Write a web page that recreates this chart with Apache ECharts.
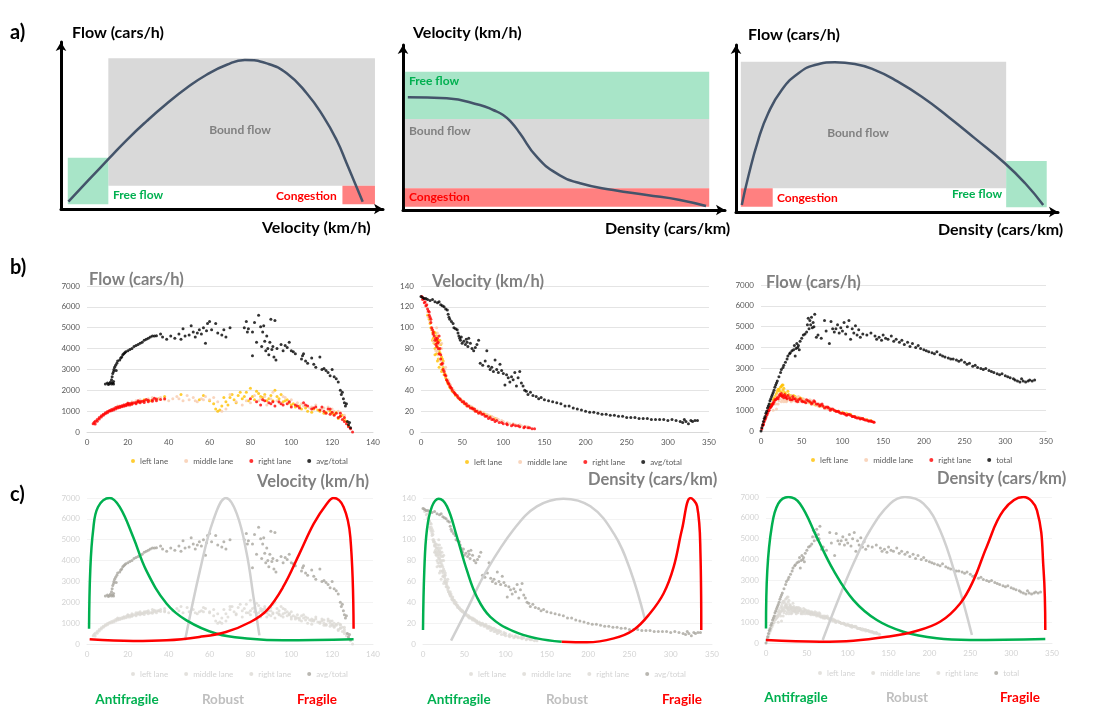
<!DOCTYPE html>
<html>
<head>
<meta charset="utf-8">
<title>Traffic flow regimes</title>
<script src="https://cdn.jsdelivr.net/npm/echarts@6/dist/echarts.min.js"></script>
<style>
  html, body { margin: 0; padding: 0; background: #fff; }
  #main { width: 1111px; height: 720px; }
</style>
</head>
<body>
<div id="main"></div>
<script>
// ---- a) schematic diagrams, arbitrary 0-100 units ----
// regions: [regime, x1, x2, y1, y2]
let a1Regions = [['bound', 14.7, 97.5, 13.9, 90.2], ['free', 2.1, 14.7, 2.8, 30.7], ['jam', 87.4, 97.5, 2.8, 13.9]]
let a2Regions = [['free', 0.6, 95.1, 55.2, 83.8], ['bound', 0.6, 95.1, 13.2, 55.2], ['jam', 0.6, 95.1, 2.0, 13.2]]
let a3Regions = [['bound', 1.5, 83.9, 14.2, 90.0], ['free', 83.9, 96.5, 2.8, 30.5], ['jam', 1.5, 11.4, 3.2, 14.2]]

let a1Curve = [[2.3,4.4],[8.6,17.4],[15.0,30.4],[20.4,41.3],[26.6,52.6],[32.8,63.0],[39.0,72.4],[45.2,80.4],[51.5,86.4],[57.1,89.2],[63.9,87.2],[70.1,81.3],[76.3,69.3],[81.5,55.3],[85.6,41.3],[88.7,27.4],[91.3,15.4],[93.7,4.4]]
let a2Curve = [[1.5,68.3],[13.6,67.7],[23.9,63.6],[28.0,60.6],[31.1,57.6],[33.8,52.8],[36.3,46.5],[41.5,32.3],[47.7,22.2],[55.0,16.2],[65.3,12.1],[75.7,9.1],[86.0,6.1],[94.1,2.4]]
let a3Curve = [[1.8,4.2],[3.8,21.1],[6.9,43.1],[10.0,59.1],[14.2,73.1],[19.4,83.1],[24.5,88.0],[30.7,89.6],[36.9,88.6],[43.2,85.0],[49.4,79.0],[57.7,69.0],[65.9,57.1],[74.2,44.1],[83.5,29.2],[89.8,17.2],[95.4,4.2]]

// ---- velocity (km/h) vs flow (cars/h) ----
let vfLeft = [[22,1350],[25,1450],[28,1550],[31,1500],[35,1600],[38,1700],[46,1800],[55,1550],[57,1750],[60,1500],[62,1350],[63,1100],[64,1000],[66,1250],[68,1450],[70,1650],[72,1550],[74,1750],[76,1600],[78,1900],[80,2100],[81,1700],[82,1550],[84,1850],[86,1650],[88,1500],[90,1750],[92,2000],[94,1600],[96,1450],[98,1550],[100,1300],[102,1200],[105,1100],[108,1000],[110,950],[113,1050],[116,900],[119,1000],[121,850],[123,650],[125,800],[127,500],[128,300],
    [65,1050],[67,1650],[69,1300],[71,1800],[73,1400],[75,1900],[77,1700],[79,1500],[83,1950],[85,1700],[87,1800],[89,1600],[91,1500],[93,1700],[95,1800],[97,1500],[99,1400],[101,1350],[104,1250],[107,1150],[111,1100],[114,1000],[117,950],[120,900],[122,950],[124,750],[126,600]]
let vfMiddle = [[15,1250],[20,1400],[24,1500],[27,1450],[30,1600],[33,1550],[36,1650],[40,1500],[42,1600],[44,1700],[47,1500],[50,1550],[52,1650],[54,1450],[56,1600],[58,1700],[60,1550],[64,1450],[66,1000],[68,1100],[70,1800],[73,1450],[76,1300],[78,1500],[82,1750],[85,1600],[88,1300],[91,1900],[94,1400],[97,1650],[100,1550],[103,1400],[106,1250],[109,1150],[112,1300],[115,1100],[118,1200],[121,1000],[124,950],
    [18,1300],[22,1450],[26,1550],[29,1500],[32,1650],[35,1600],[38,1550],[45,1600],[49,1750],[53,1500],[57,1550],[62,1650],[80,1400],[84,1500],[87,1700],[90,1600],[93,1500],[96,1700],[99,1450],[105,1350],[110,1200],[116,1150],[120,1100],[123,1000],[126,800]]
let vfRight = [[3,400],[3.5,450],[4,520],[5,600],[6,700],[7,780],[8,850],[9,920],[10,980],[11,1030],[12,1080],[13,1120],[14,1170],[15,1200],[16,1230],[17,1260],[18,1290],[19,1320],[20,1340],[21,1370],[22,1390],[23,1400],[24,1420],[25,1440],[26,1460],[27,1480],[28,1500],[30,1520],[32,1540],[34,1580],[36,1560],[38,1600],
    [4,380],[5,520],[6,620],[7,720],[8,800],[9,870],[10,920],[11,990],[12,1020],[13,1060],[14,1100],[15,1150],[16,1180],[17,1210],[18,1240],[19,1260],[20,1290],[21,1300],[22,1330],[24,1360],[26,1400],[28,1420],[30,1450],[32,1480],[34,1500],[20,1380],[25,1500],[29,1560],[33,1620],
    [80,1600],[83,1450],[85,1300],[87,1500],[89,1400],[90,1350],[92,1250],[94,1450],[96,1300],[98,1350],[100,1200],[102,1300],[104,1150],[106,1400],[108,1250],[110,1100],[112,1200],[114,1050],[116,1000],[117,900],[118,1100],[119,850],[120,950],[121,800],[122,900],[123,700],[124,750],[125,600],[126,500],[127,400],[128,250],[129,150],[130,0],
    [86,1550],[91,1450],[95,1350],[99,1450],[103,1250],[107,1300],[111,1150],[115,1200],[119,1100],[124,900],[126,700]]
let vfTotal = [[9,2300],[10,2350],[10.5,2280],[11,2320],[11.5,2400],[12,2300],[12.5,2350],[13,2420],[13,2300],[12,2500],[12.3,2650],[12.6,2800],[13,2900],[13.2,3000],[13.5,3100],[14,3200],[14.3,2950],[14.6,3300],[15,3400],[16,3450],[16.5,3550],[17,3600],[17.5,3700],[18,3750],[18.5,3800],[19,3850],[20,3900],[21,3950],[22,4000],[23,4100],[24,4150],[25,4200],[26,4250],[27,4300],[28,4400],[29,4450],[30,4500],[31,4550],[32,4600],[33,4600],[34,4620],[36,4700],[37,4550],[39,4450],[41,4600],[43,4500],[45,4700],[46,4450],[47,4950],[48,4600],[50,4650],[51,5100],[52,4800],[53,4550],[54,4750],[55,4900],[56,4700],[57,5000],[58,4250],[58.5,4850],[59,5200],[60,5300],[61,4900],[63,5200],[64,4750],[66,4650],[67,4900],[68,4550],[70,5000],[77,5000],[78,5300],[78.5,4800],[79,4950],[81,3650],[81,4800],[82,5250],[83,4300],[84,5600],[85,5050],[85.5,4100],[86,4800],[86.5,5100],[87,4350],[87.5,3900],[88,4600],[88.5,4000],[89,3700],[89.5,4300],[90,5400],[90.5,3950],[91,4100],[91.5,3600],[92,5350],[92.5,3450],[93,4000],[95,4200],[96,3900],[97,4150],[98,4050],[99,4300],[100,3900],[101,3850],[102,3750],[105,3500],[105.5,3650],[106,3750],[107,3400],[108,3300],[110,3550],[111,3250],[112,3100],[114,3600],[115,3000],[116,3050],[117,2950],[118,2850],[119,2700],[120,3000],[121,2650],[122,2550],[123,2400],[124,2000],[124.5,1800],[125,1900],[125.5,1600],[126,1400],[126.5,1250],[127,1350],[127.5,500],[128,350],[128.5,450],[129,200]]

// ---- density (cars/km) vs velocity (km/h) ----
let dvLeft = [[8,112],[10,108],[12,100],[14,95],[15,90],[16,85],[17,80],[18,95],[19,75],[20,82],[21,70],[22,78],[23,88],[24,65],[25,72],[26,60],[27,68],[28,55],[30,52],[32,48],[35,43],[38,39],[42,35],[46,32],[50,30],[55,26],[60,24],[65,21],[70,19],[75,18],[80,16],
    [11,104],[13,98],[14,88],[16,96],[17,74],[18,86],[19,92],[20,68],[21,88],[22,62],[23,76],[24,84],[25,58],[26,70],[27,62],[29,56],[31,50],[33,46],[36,42],[40,38],[44,34],[48,31],[52,28],[58,25],[63,23],[68,20],[73,19],[78,17],[84,15],[90,13]]
let dvMiddle = [[6,120],[9,110],[13,98],[15,88],[17,92],[19,100],[20,78],[22,84],[23,70],[25,80],[26,64],[28,58],[30,62],[33,50],[36,45],[40,40],[44,34],[48,32],[52,29],[57,26],[62,24],[68,21],[72,20],[76,19],[82,16],[88,14],[94,12],[100,10],[108,8],[115,7],[122,6],[130,5],
    [8,115],[11,106],[14,94],[16,86],[18,78],[20,95],[21,74],[24,68],[25,85],[27,66],[29,60],[31,54],[34,48],[38,42],[42,37],[46,33],[50,30],[55,27],[60,25],[65,22],[70,20],[75,18],[80,17],[86,15],[92,13],[98,11],[105,9],[112,8],[120,7],[128,5]]
let dvRight = [[1,130],[3,128],[5,125],[7,122],[8,118],[10,115],[11,110],[12,105],[13,100],[15,96],[16,92],[18,90],[19,88],[20,85],[21,80],[22,75],[24,70],[25,65],[27,60],[29,55],[31,50],[33,47],[35,44],[37,42],[40,38],[42,36],[45,33],[48,31],[50,29],[53,27],[56,25],[60,23],[63,22],[66,20],[70,18],[74,17],[78,15],[82,13],[86,12],[90,10],[95,9],[100,8],[105,7],[110,6],[115,6],[120,5],[125,4],[130,4],[135,3],[138,3],
    [2,127],[4,124],[6,121],[9,116],[10,112],[12,108],[14,98],[15,94],[17,88],[18,84],[19,82],[20,90],[21,86],[22,92],[23,80],[24,74],[26,66],[28,58],[30,54],[32,49],[34,46],[36,43],[38,40],[41,37],[44,35],[47,32],[52,29],[55,27],[58,25],[62,23],[65,22],[68,20],[72,19],[76,17],[80,15],[84,14],[88,12],[92,11],[98,9],[104,8],[112,7],[118,6],[126,5],[132,4]]
let dvTotal = [[0,130],[2,129],[4,128],[6,128],[8,127],[11,126],[14,127],[17,125],[20,124],[22,125],[24,122],[26,121],[28,120],[30,118],[32,117],[33,113],[34,110],[35,108],[37,106],[39,104],[40,100],[42,99],[44,98],[45,95],[46,92],[47,90],[48,88],[49,91],[50,85],[52,87],[54,84],[55,89],[56,86],[57,82],[58,90],[60,85],[62,80],[64,78],[66,81],[68,84],[70,88],[72,66],[75,64],[78,68],[80,78],[82,63],[84,60],[86,62],[88,58],[90,69],[92,60],[94,57],[96,65],[98,59],[100,56],[102,45],[104,55],[106,52],[108,48],[110,53],[112,50],[114,57],[116,44],[118,52],[120,58],[122,47],[124,44],[126,40],[128,39],[130,36],[133,38],[136,35],[140,34],[143,32],[146,33],[150,31],[155,30],[160,29],[165,28],[170,27],[175,25],[180,25],[185,23],[190,22],[195,21],[200,20],[205,19],[210,19],[215,18],[220,17],[225,17],[230,16],[235,16],[240,15],[245,15],[250,14],[255,14],[260,14],[265,13],[270,13],[275,13],[280,12],[285,12],[290,12],[295,12],[300,11],[305,12],[310,11],[315,10],[318,9],[320,12],[322,10],[325,8],[328,11],[330,10],[333,11],[336,11]]

// ---- density (cars/km) vs flow (cars/h) ----
let dfLeft = [[12,1300],[15,1500],[18,1700],[20,1900],[22,2000],[24,2100],[25,1850],[26,2200],[27,1950],[28,2050],[30,1800],[32,1700],[34,1750],[36,1650],[38,1600],[40,1700],[44,1550],[48,1600],[52,1500],[56,1450],[60,1350],[65,1300],[70,1250],[75,1200],[80,1100],[90,1000],[100,900],[110,800],[120,650],[130,550],
    [16,1600],[19,1800],[21,2000],[23,1900],[25,2150],[26,1700],[27,2200],[29,1850],[31,1650],[33,1900],[35,1550],[37,1700],[42,1650],[46,1500],[50,1550],[54,1400],[58,1400],[62,1350],[67,1250],[72,1200],[78,1150],[85,1050],[95,950],[105,850],[115,700],[125,600],[135,500]]
let dfMiddle = [[10,1100],[14,1250],[17,1400],[19,1050],[21,1300],[23,1550],[25,1400],[27,1600],[29,1500],[31,1400],[33,1550],[35,1500],[37,1400],[39,1450],[42,1600],[45,1500],[48,1400],[52,1550],[55,1450],[58,1350],[62,1450],[66,1300],[70,1200],[74,1250],[78,1150],[82,1050],[86,1000],[92,950],[98,880],[104,820],[112,720],[118,680],[125,600],[132,500],
    [12,1200],[15,1000],[18,1300],[20,1700],[22,1450],[24,1800],[26,1500],[28,1400],[30,1700],[32,1450],[34,1650],[36,1550],[38,1700],[40,1550],[43,1400],[46,1650],[50,1450],[54,1500],[57,1400],[60,1500],[64,1350],[68,1250],[72,1300],[76,1200],[80,1100],[84,1100],[90,1000],[96,920],[102,850],[108,780],[115,700],[122,650],[128,560],[135,480]]
let dfRight = [[1,100],[2,250],[3,350],[4,450],[5,550],[6,650],[7,750],[8,850],[9,950],[10,1000],[11,1100],[12,1150],[13,1200],[14,1300],[15,1350],[16,1400],[18,1500],[20,1600],[22,1650],[24,1700],[26,1650],[28,1600],[30,1650],[32,1550],[35,1600],[38,1500],[40,1550],[43,1450],[46,1500],[50,1450],[53,1400],[56,1500],[60,1400],[63,1350],[66,1400],[70,1300],[73,1250],[76,1200],[80,1150],[83,1100],[86,1050],[90,1000],[93,950],[96,900],[100,850],[103,800],[106,780],[110,750],[113,700],[116,650],[120,620],[123,600],[126,550],[130,520],[133,480],[136,450],[139,420],
    [3,300],[5,600],[7,800],[9,1000],[11,1150],[13,1250],[15,1300],[17,1500],[19,1550],[21,1550],[23,1750],[25,1800],[27,1700],[29,1750],[31,1600],[33,1700],[36,1500],[39,1650],[42,1550],[45,1400],[48,1550],[51,1400],[55,1350],[58,1450],[62,1300],[65,1450],[68,1300],[72,1200],[75,1300],[78,1100],[82,1150],[85,1000],[88,1050],[92,950],[95,950],[98,850],[102,850],[105,750],[108,800],[112,700],[115,700],[118,620],[122,580],[125,600],[128,530],[132,480],[135,480],[138,430]]
let dfTotal = [[0,0],[1,150],[2,300],[3,450],[4,600],[5,700],[6,850],[7,950],[8,1100],[9,1200],[10,1300],[11,1450],[12,1550],[13,1650],[14,1750],[15,1850],[16,1950],[17,2100],[18,2200],[19,2300],[20,2400],[22,2600],[24,2800],[25,2950],[27,3050],[28,3150],[30,3300],[32,3450],[33,3600],[35,3700],[36,3750],[38,3850],[40,3900],[41,4100],[42,3600],[43,3950],[44,4200],[45,4000],[46,4100],[47,3900],[48,4300],[50,4450],[52,4600],[54,4650],[56,4750],[57,5100],[58,5400],[59,4900],[60,5300],[61,5100],[62,5450],[63,4950],[64,5200],[65,5000],[66,5600],[68,4500],[70,4600],[74,4450],[78,5300],[80,4800],[84,4200],[86,5250],[88,4900],[90,4750],[92,4900],[94,5100],[96,4700],[98,4950],[100,4800],[102,5200],[104,4650],[106,5000],[108,5300],[110,4400],[112,4900],[114,4700],[116,5050],[118,4600],[120,4850],[122,4500],[125,4650],[130,4600],[135,4700],[140,4550],[142,4400],[145,4500],[148,4350],[150,4600],[153,4450],[156,4400],[160,4550],[163,4300],[166,4400],[170,4250],[173,4350],[176,4150],[180,4250],[183,4050],[186,4200],[190,4000],[193,4100],[196,3950],[200,3900],[203,3850],[206,3800],[210,3750],[213,3700],[216,3800],[220,3650],[223,3600],[226,3550],[230,3500],[233,3450],[236,3450],[240,3400],[243,3350],[246,3400],[250,3300],[253,3200],[256,3250],[260,3100],[263,3150],[266,3050],[270,3000],[273,2950],[276,3000],[280,2900],[283,2850],[286,2800],[290,2750],[293,2700],[296,2750],[300,2650],[303,2600],[306,2550],[310,2500],[312,2450],[315,2400],[318,2350],[320,2500],[322,2400],[325,2350],[328,2400],[330,2450],[333,2400],[336,2450]]

// ---- c) antifragile / robust / fragile curves ----
let c1Anti = [[1,735],[1.6,3530],[3,5450],[5.4,6570],[11.1,7000],[16,6570],[22.6,5130],[29,3530],[39,1930],[48.7,1135],[63.5,495],[80,256],[96,176],[130.5,224]]
let c1Robust = [[48,176],[55.3,3530],[61.8,5930],[68,7000],[73.3,6250],[78.2,4330],[81.5,2250],[84.4,415]]
let c1Fragile = [[1.3,224],[22.6,144],[39,176],[55,336],[68,575],[80,1055],[88,1614],[96,2733],[104,4331],[111,5770],[117.4,6728],[120.7,7000],[125.6,6570],[128.9,5130],[130.5,735]]
let c2Anti = [[0,13.5],[1.6,71],[4.8,110],[10.9,132],[19,139.4],[29,132],[41,103],[53,71],[65,45.5],[81.5,26],[110,12],[138,5.4],[168,2.2]]
let c2Robust = [[34,3.2],[53,32.7],[77.5,71],[110,110],[138,132],[170,139.4],[202.7,132],[231,106],[251,71],[269,23]]
let c2Fragile = [[168,2.2],[198.6,1.6],[231,5.4],[255,13.5],[275,29.5],[291.5,48.7],[303.6,74],[313.7,110],[324,140],[332,132],[336,87],[337,13.5]]
let c3Anti = [[0,700],[1.6,3490],[7,5565],[15,6680],[27.4,7000],[41.6,6680],[62,5087],[82.5,3492],[107,2057],[135.6,1100],[168,542],[209,223],[250,144],[341.8,191]]
let c3Robust = [[69.4,144],[86.6,1898],[107,3811],[127.4,5406],[152,6680],[170,7000],[192.7,6680],[213,5406],[233.6,3014],[252,383]]
let c3Fragile = [[0,144],[66,64],[107,112],[148,303],[180.5,542],[213,1020],[237.6,1898],[254,3014],[270,4608],[290.7,6362],[315,7000],[331.6,6362],[339.7,3492],[341.8,622]]

let laneNames = ['left lane', 'middle lane', 'right lane']

var FONT = 'Lato, "Open Sans", sans-serif'
var regionColor = { bound: '#D9D9D9', free: '#A8E5C8', jam: '#FF8080' }
var laneColor = ['#FFC000', '#F8CBAD', '#FF0000']
var grayLane = '#DCDAD5'
var grayTotal = '#A8A59D'

var chart = echarts.init(document.getElementById('main'))

var grids = [
    { left: 61, top: 42, width: 322, height: 167 },
    { left: 403, top: 45, width: 322, height: 165 },
    { left: 736, top: 45, width: 322, height: 167 },
    { left: 87, top: 286, width: 286, height: 146 },
    { left: 421, top: 286, width: 288, height: 146 },
    { left: 761, top: 285, width: 285, height: 146 },
    { left: 87, top: 498, width: 286, height: 146 },
    { left: 423, top: 498, width: 289, height: 146 },
    { left: 766, top: 497, width: 286, height: 146 }
]

function arrowAxis(i) {
    return {
        gridIndex: i, type: 'value', min: 0, max: 100,
        axisLine: { show: true, symbol: ['none', 'arrow'], symbolSize: [8, 9], lineStyle: { color: '#000', width: 3 } },
        axisTick: { show: false }, axisLabel: { show: false }, splitLine: { show: false }
    }
}

function valueAxis(i, max, step, isY, faded) {
    return {
        gridIndex: i, type: 'value', min: 0, max: max, interval: step,
        axisLine: { show: !isY, lineStyle: { color: faded ? '#EDEDED' : '#D9D9D9' } },
        axisTick: { show: false },
        axisLabel: {
            fontSize: 8, fontFamily: FONT, color: faded ? '#D3D3D3' : '#595959', margin: isY ? 7 : 6,
            formatter: function (v) { return String(v) }
        },
        splitLine: { show: isY, lineStyle: { color: faded ? '#F3F3F3' : '#E4E4E4' } }
    }
}

var xAxes = [arrowAxis(0), arrowAxis(1), arrowAxis(2),
    valueAxis(3, 140, 20, false), valueAxis(4, 350, 50, false), valueAxis(5, 350, 50, false),
    valueAxis(6, 140, 20, false, true), valueAxis(7, 350, 50, false, true), valueAxis(8, 350, 50, false, true)]
var yAxes = [arrowAxis(0), arrowAxis(1), arrowAxis(2),
    valueAxis(3, 7000, 1000, true), valueAxis(4, 140, 20, true), valueAxis(5, 7000, 1000, true),
    valueAxis(6, 7000, 1000, true, true), valueAxis(7, 140, 20, true, true), valueAxis(8, 7000, 1000, true, true)]

var series = []

function schematic(g, regions, curve) {
    series.push({
        type: 'line', xAxisIndex: g, yAxisIndex: g, data: [], z: 1, silent: true,
        markArea: {
            silent: true,
            data: regions.map(function (r) {
                return [{ xAxis: r[1], yAxis: r[3], itemStyle: { color: regionColor[r[0]], opacity: 1 } }, { xAxis: r[2], yAxis: r[4] }]
            })
        }
    })
    series.push({
        type: 'line', xAxisIndex: g, yAxisIndex: g, data: curve, smooth: 0.5,
        showSymbol: false, z: 3, silent: true,
        lineStyle: { color: '#44546A', width: 2.5 }
    })
}
schematic(0, a1Regions, a1Curve)
schematic(1, a2Regions, a2Curve)
schematic(2, a3Regions, a3Curve)

function dots(name, data, g, color, z) {
    series.push({
        name: name, type: 'scatter', xAxisIndex: g, yAxisIndex: g, data: data, symbolSize: 3, silent: true, z: z,
        itemStyle: { color: color }
    })
}

var panels = [
    [vfLeft, vfMiddle, vfRight, vfTotal, 'avg/total'],
    [dvLeft, dvMiddle, dvRight, dvTotal, 'avg/total'],
    [dfLeft, dfMiddle, dfRight, dfTotal, 'total']
]
panels.forEach(function (p, k) {
    // row b in colour, row c in gray
    for (var j = 0; j < 3; j++) {
        dots(laneNames[j], p[j], 3 + k, laneColor[j], 2)
        dots(laneNames[j], p[j], 6 + k, grayLane, 2)
    }
    dots(p[4], p[3], 3 + k, '#000', 3)
    dots(p[4], p[3], 6 + k, grayTotal, 3)
})

function curve(g, data, color) {
    series.push({
        type: 'line', xAxisIndex: g, yAxisIndex: g, data: data, smooth: 0.4, showSymbol: false, silent: true, z: 5,
        lineStyle: { color: color, width: 2.5 }
    })
}
curve(6, c1Robust, '#D0D0D0'); curve(6, c1Anti, '#00B050'); curve(6, c1Fragile, '#FF0000')
curve(7, c2Robust, '#D0D0D0'); curve(7, c2Anti, '#00B050'); curve(7, c2Fragile, '#FF0000')
curve(8, c3Robust, '#D0D0D0'); curve(8, c3Anti, '#00B050'); curve(8, c3Fragile, '#FF0000')

function legendAt(left, top, totalName, faded) {
    var names = laneNames.concat([totalName])
    return {
        left: left, top: top, padding: 0, itemWidth: 4, itemHeight: 4, itemGap: 16, icon: 'circle', selectedMode: false,
        textStyle: { fontSize: 8, fontFamily: FONT, color: faded ? '#D3D3D3' : '#595959' },
        data: names.map(function (n, i) {
            var c = faded ? (i < 3 ? grayLane : grayTotal) : (i < 3 ? laneColor[i] : '#000')
            return { name: n, itemStyle: { color: c } }
        })
    }
}

var legends = [
    legendAt(131, 457, 'avg/total'), legendAt(465, 458, 'avg/total'), legendAt(811, 456, 'total'),
    legendAt(131, 670, 'avg/total', true), legendAt(469, 670, 'avg/total', true), legendAt(818, 669, 'total', true)
]

// free text: [text, x, y, size, colour, align]
var texts = [
    ['a)', 10, 33, 20, '#000', 'left'], ['b)', 10, 268, 20, '#000', 'left'], ['c)', 10, 495, 20, '#000', 'left'],
    ['Flow (cars/h)', 72, 33, 16, '#000', 'left'], ['Velocity (km/h)', 262, 228, 16, '#000', 'left'],
    ['Bound flow', 240, 130, 12, '#808080', 'center'], ['Free flow', 113, 195, 12, '#00B050', 'left'], ['Congestion', 276, 196, 12, '#FF0000', 'left'],
    ['Velocity (km/h)', 413, 33, 16, '#000', 'left'], ['Density (cars/km)', 605, 229, 16, '#000', 'left'],
    ['Free flow', 409, 81, 12, '#00B050', 'left'], ['Bound flow', 409, 131, 12, '#808080', 'left'], ['Congestion', 409, 197, 12, '#FF0000', 'left'],
    ['Flow (cars/h)', 748, 35, 16, '#000', 'left'], ['Density (cars/km)', 938, 230, 16, '#000', 'left'],
    ['Bound flow', 858, 133, 12, '#808080', 'center'], ['Congestion', 777, 198, 12, '#FF0000', 'left'], ['Free flow', 952, 194, 12, '#00B050', 'left'],
    ['Flow (cars/h)', 89, 280, 16.5, '#808080', 'left'], ['Velocity (km/h)', 432, 282, 16.5, '#808080', 'left'], ['Flow (cars/h)', 766, 283, 16.5, '#808080', 'left'],
    ['Velocity (km/h)', 257, 482, 16.5, '#808080', 'left'], ['Density (cars/km)', 588, 480, 16.5, '#808080', 'left'], ['Density (cars/km)', 937, 479, 16.5, '#808080', 'left'],
    ['Antifragile', 127, 700, 13.5, '#00B050', 'center'], ['Robust', 223, 700, 13.5, '#BFBFBF', 'center'], ['Fragile', 317, 700, 13.5, '#FF0000', 'center'],
    ['Antifragile', 459, 700, 13.5, '#00B050', 'center'], ['Robust', 567, 700, 13.5, '#BFBFBF', 'center'], ['Fragile', 682, 700, 13.5, '#FF0000', 'center'],
    ['Antifragile', 796, 698, 13.5, '#00B050', 'center'], ['Robust', 907, 698, 13.5, '#BFBFBF', 'center'], ['Fragile', 1020, 698, 13.5, '#FF0000', 'center']
]

var graphic = texts.map(function (t) {
    return {
        type: 'text', x: t[1], y: t[2], silent: true, z: 10,
        style: { text: t[0], fill: t[4], font: 'bold ' + t[3] + 'px ' + FONT, align: t[5], verticalAlign: 'middle' }
    }
})

chart.setOption({
    animation: false,
    backgroundColor: '#fff',
    grid: grids,
    xAxis: xAxes,
    yAxis: yAxes,
    legend: legends,
    graphic: graphic,
    series: series
})
</script>
</body>
</html>
